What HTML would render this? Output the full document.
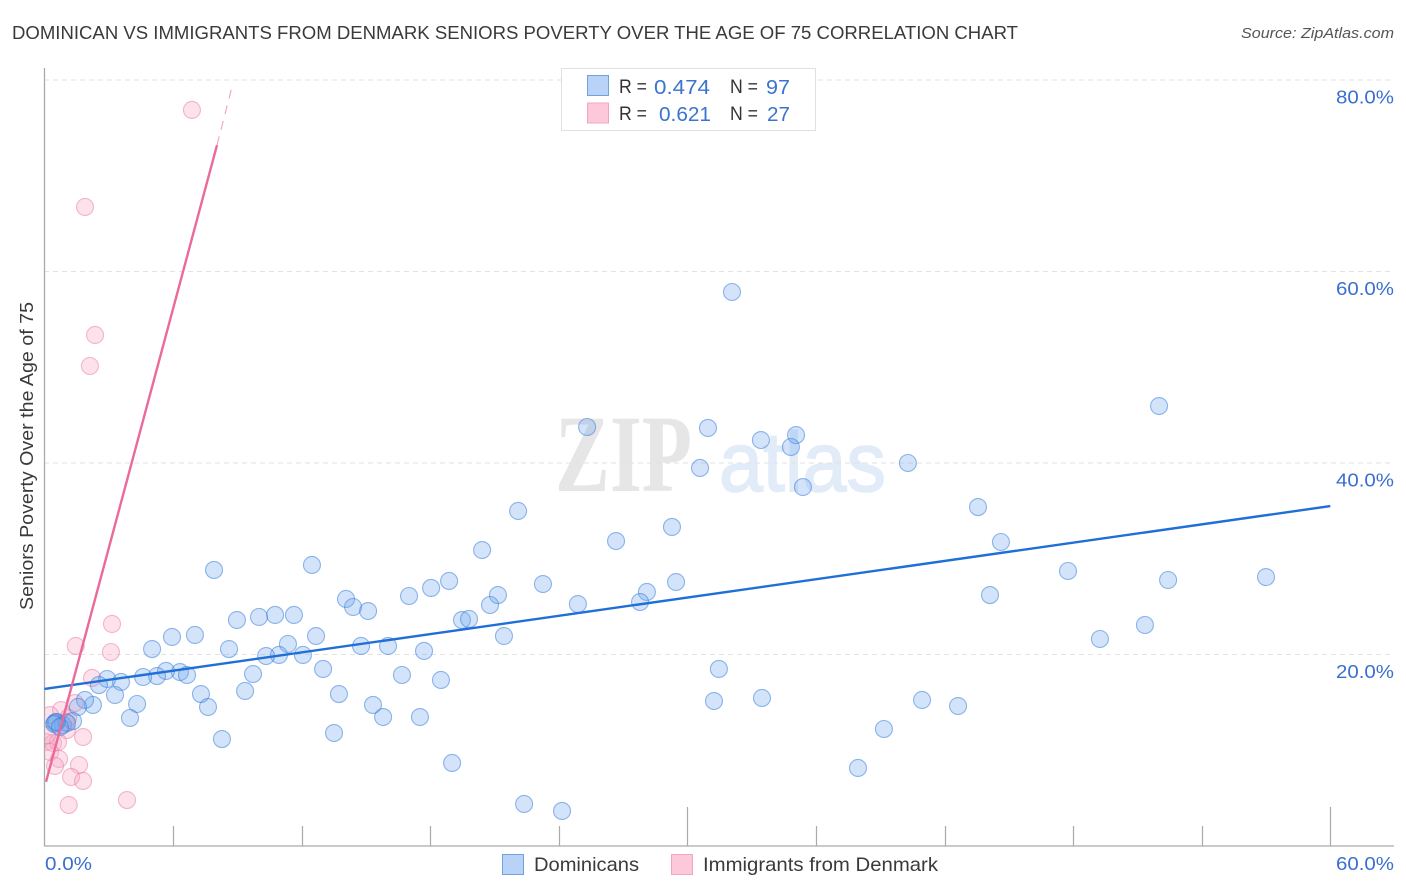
<!DOCTYPE html>
<html>
<head>
<meta charset="utf-8">
<title>Dominican vs Immigrants from Denmark Seniors Poverty Correlation Chart</title>
<style>
html,body{margin:0;padding:0;background:#fff;}
svg{display:block;font-family:"Liberation Sans",sans-serif;}
</style>
</head>
<body>
<svg id="chart" xmlns="http://www.w3.org/2000/svg" width="1406" height="892" viewBox="0 0 1406 892">
  <defs>
    <clipPath id="plot-clip"><rect x="45" y="60" width="1350" height="786"></rect></clipPath>
  </defs>
  <rect x="0" y="0" width="1406" height="892" fill="#fff"></rect>
  <text x="12" y="39" font-size="18.5" fill="#3a3a3a" textLength="1006" lengthAdjust="spacingAndGlyphs">DOMINICAN VS IMMIGRANTS FROM DENMARK SENIORS POVERTY OVER THE AGE OF 75 CORRELATION CHART</text>
  <text x="1241" y="38" font-size="15" font-style="italic" fill="#555" textLength="153" lengthAdjust="spacingAndGlyphs">Source: ZipAtlas.com</text>
  <text x="555" y="491" font-family="'Liberation Serif',serif" font-size="110" font-weight="bold" fill="#e6e6e6" textLength="137" lengthAdjust="spacingAndGlyphs">ZIP</text>
  <text x="719" y="491" font-size="84" fill="#e2ecf9" stroke="#e2ecf9" stroke-width="1.6" textLength="167" lengthAdjust="spacingAndGlyphs">atlas</text>
  <g id="grid"></g>
  <g id="axes"></g>
  <g id="pink-points" clip-path="url(#plot-clip)"></g>
  <g id="blue-points" clip-path="url(#plot-clip)"></g>
  <g id="trend-lines"></g>
  <g id="tick-labels"></g>
  <text transform="translate(33,610) rotate(-90)" font-size="18.5" fill="#3a3a3a" textLength="308" lengthAdjust="spacingAndGlyphs">Seniors Poverty Over the Age of 75</text>

  <g>
    <rect x="561.5" y="68.5" width="254" height="62" fill="#fff" stroke="#e0e0e0"></rect>
    <rect x="587.5" y="75.5" width="21" height="20" fill="#b8d3f7" stroke="#6fa3e0"></rect>
    <rect x="587.5" y="103" width="21" height="20" fill="#fdc9da" stroke="#f3a6c0"></rect>
    <text x="619" y="93" font-size="19" fill="#333" textLength="28" lengthAdjust="spacingAndGlyphs">R =</text>
    <text x="654" y="94" font-size="20" fill="#3b74cf" textLength="56" lengthAdjust="spacingAndGlyphs">0.474</text>
    <text x="730" y="93" font-size="19" fill="#333" textLength="28" lengthAdjust="spacingAndGlyphs">N =</text>
    <text x="766" y="94" font-size="20" fill="#3b74cf" textLength="24" lengthAdjust="spacingAndGlyphs">97</text>
    <text x="619" y="120" font-size="19" fill="#333" textLength="28" lengthAdjust="spacingAndGlyphs">R =</text>
    <text x="659" y="121" font-size="20" fill="#3b74cf" textLength="52" lengthAdjust="spacingAndGlyphs">0.621</text>
    <text x="730" y="120" font-size="19" fill="#333" textLength="28" lengthAdjust="spacingAndGlyphs">N =</text>
    <text x="767" y="121" font-size="20" fill="#3b74cf" textLength="23" lengthAdjust="spacingAndGlyphs">27</text>
  </g>

  <g>
    <rect x="502.5" y="854.5" width="21" height="20" fill="#b8d3f7" stroke="#6fa3e0"></rect>
    <text x="534" y="871" font-size="19.5" fill="#3a3a3a" textLength="105" lengthAdjust="spacingAndGlyphs">Dominicans</text>
    <rect x="671.5" y="854.5" width="21" height="20" fill="#fdc9da" stroke="#f3a6c0"></rect>
    <text x="703" y="871" font-size="19.5" fill="#3a3a3a" textLength="235" lengthAdjust="spacingAndGlyphs">Immigrants from Denmark</text>
  </g>
</svg>

<script>
var blueX = [32.08,52.01,25.32,30.96,33.43,35.07,34.83,30.59,35.39,40.29,22.10,29.28,26.67,20.42,43.56,44.63,7.91,12.48,47.76,52.43,57.00,44.12,18.88,18.04,23.26,21.16,29.47,28.11,27.79,24.89,20.79,19.48,19.81,17.01,14.07,14.40,15.10,11.64,10.76,10.01,8.98,12.67,11.36,7.02,5.95,5.02,8.61,14.77,16.03,17.71,21.44,12.06,10.94,10.34,13.00,9.73,16.68,18.50,6.32,6.65,5.67,5.25,4.60,3.57,2.92,2.54,51.35,49.25,31.47,9.36,7.30,13.74,15.33,7.63,15.80,17.52,4.32,3.29,3.99,2.26,1.89,1.56,33.48,31.24,40.95,42.63,39.17,13.51,8.28,37.96,19.02,22.38,24.15,0.49,0.86,1.33,0.58,1.05,0.52,0.45,0.72];
var blueY = [57.86,45.95,43.76,43.66,42.40,42.92,41.67,39.48,37.49,40.00,34.99,33.32,31.85,30.91,35.40,31.75,28.83,29.35,28.72,27.78,28.09,26.21,27.68,26.95,27.36,26.21,27.57,26.53,25.48,25.27,25.17,23.60,23.71,26.11,25.80,24.96,24.54,24.13,24.13,23.92,23.60,21.93,21.10,22.04,21.83,20.57,20.57,20.89,20.89,20.37,21.93,19.95,19.95,19.84,18.49,17.96,17.86,17.34,18.17,17.86,18.28,17.75,17.65,17.13,17.44,16.81,23.08,21.62,18.49,16.19,15.87,15.87,14.73,14.52,13.47,13.47,14.83,15.77,13.37,14.73,15.25,14.52,15.46,15.14,15.25,14.62,12.22,11.80,11.17,8.15,8.67,4.39,3.66,12.85,12.64,13.05,12.95,12.85,12.95,12.74,12.43];
var pinkX = [6.88,1.89,2.36,2.12,3.15,1.46,3.10,2.22,1.42,0.77,0.26,1.10,1.00,1.04,1.80,0.07,0.40,0.63,0.26,0.68,0.49,1.61,1.24,1.80,1.13,3.85,0.12];
var pinkY = [76.87,66.74,53.37,50.13,23.19,20.89,20.26,17.55,14.93,14.20,13.68,13.37,12.95,12.11,11.38,10.86,10.76,10.86,9.82,9.09,8.36,8.46,7.21,6.79,4.28,4.80,11.59];
var blueTrendX = [0,60];
var blueTrendY = [16.4,35.5];
var pinkTrendX = [0.07,8.05];
var pinkTrendY = [6.7,73.2];
var pinkDashX = [8.05,8.75];
var pinkDashY = [73.2,79.3];
var xTickValues = [0,6,12,18,24,30,36,42,48,54,60];
var xMajorTicks = [0,30,60];
var xLabelValues = ["0.0%","60.0%"];
var yGridValues = [20,40,60,80];
var yTickLabels = ["20.0%","40.0%","60.0%","80.0%"];

var NS = 'http://www.w3.org/2000/svg';
function xScale(v){ return 44.5 + v * 21.43; }
function yScale(v){ return 846 - v * 9.575; }
function make(tag, parent, attrs){
  var el = document.createElementNS(NS, tag);
  for (var k in attrs) { el.setAttribute(k, attrs[k]); }
  parent.appendChild(el);
  return el;
}

var grid = document.getElementById('grid');
yGridValues.forEach(function(v){
  var line = make('line', grid, {x1:44, x2:1394, y1:yScale(v), y2:yScale(v), stroke:'#e2e2e2', 'stroke-width':1, 'stroke-dasharray':'5 4'});
  
  
});

var axes = document.getElementById('axes');
var yAxis = make('line', axes, {x1:44.5, x2:44.5, y1:68, y2:846.5, stroke:'#aaa', 'stroke-width':1.3});


var xAxis = make('line', axes, {x1:44, x2:1394, y1:846, y2:846, stroke:'#aaa', 'stroke-width':1.3});


xTickValues.forEach(function(v){
  if (v === 0) { return; }
  var top = xMajorTicks.indexOf(v) >= 0 ? 807 : 826;
  var px = Math.round(xScale(v)) + 0.5;
  var tick = make('line', axes, {x1:px, x2:px, y1:top, y2:846, stroke:'#aaa', 'stroke-width':1.2});
  
  
});

function drawPoints(groupId, xs, ys, fill, stroke, label){
  var g = document.getElementById(groupId);
  xs.forEach(function(x, i){
    var c = make('circle', g, {cx:xScale(x), cy:yScale(ys[i]), r:8.5, fill:fill, stroke:stroke, 'stroke-width':1.1});
    
    
  });
}
drawPoints('pink-points', pinkX, pinkY, 'rgba(250,170,195,0.34)', 'rgba(232,120,160,0.5)', 'denmark');
drawPoints('blue-points', blueX, blueY, 'rgba(110,165,240,0.3)', 'rgba(50,120,215,0.52)', 'dominicans');

var trends = document.getElementById('trend-lines');
var blueLine = make('line', trends, {x1:xScale(blueTrendX[0]), y1:yScale(blueTrendY[0]), x2:xScale(blueTrendX[1]), y2:yScale(blueTrendY[1]), stroke:'#1f6fd6', 'stroke-width':2.4});


var pinkLine = make('line', trends, {x1:xScale(pinkTrendX[0]), y1:yScale(pinkTrendY[0]), x2:xScale(pinkTrendX[1]), y2:yScale(pinkTrendY[1]), stroke:'#e96a9b', 'stroke-width':2.4});


var pinkDash = make('line', trends, {x1:xScale(pinkDashX[0]), y1:yScale(pinkDashY[0]), x2:xScale(pinkDashX[1]), y2:yScale(pinkDashY[1]), stroke:'#f09abb', 'stroke-width':1, 'stroke-dasharray':'9 7'});



var labels = document.getElementById('tick-labels');
yGridValues.forEach(function(v, i){
  var t = make('text', labels, {x:1336, y:yScale(v) + 23.5, 'font-size':18.5, fill:'#3a6fd0', textLength:58, lengthAdjust:'spacingAndGlyphs'});
  t.textContent = yTickLabels[i];
  
  
});
var x0Label = make('text', labels, {x:45, y:870, 'font-size':18.5, fill:'#3a6fd0', textLength:47, lengthAdjust:'spacingAndGlyphs'});
x0Label.textContent = xLabelValues[0];


var x1Label = make('text', labels, {x:1336, y:870, 'font-size':18.5, fill:'#3a6fd0', textLength:58, lengthAdjust:'spacingAndGlyphs'});
x1Label.textContent = xLabelValues[1];


</script>
</body>
</html>
